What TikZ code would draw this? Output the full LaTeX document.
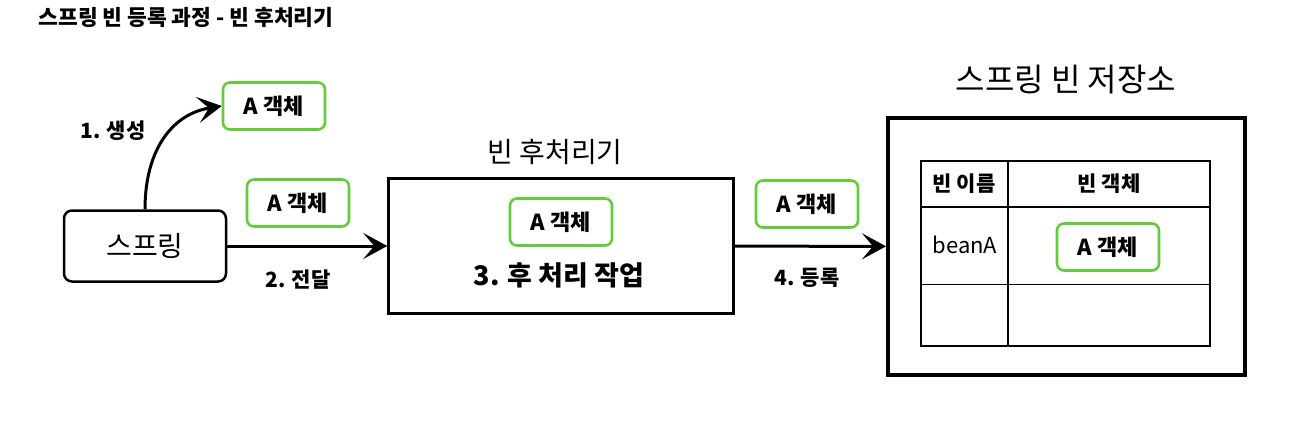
\documentclass[tikz,border=0pt]{standalone}
\usepackage{fontspec}
\setmainfont{Noto Sans CJK KR}
\usetikzlibrary{arrows.meta}
\definecolor{objgreen}{RGB}{98,204,58}
\tikzset{
  objbox/.style={draw=objgreen, line width=2.6pt, rounded corners=7pt,
    minimum width=102pt, minimum height=47pt, font=\fontsize{22}{26}\selectfont\bfseries},
  flow/.style={line width=3pt, -{Stealth[length=24pt,width=26pt,inset=11pt]}},
  lbl/.style={font=\fontsize{21}{25}\selectfont\bfseries},
  cell/.style={font=\fontsize{22}{26}\selectfont},
}

\begin{document}
\begin{tikzpicture}[x=1pt,y=-1pt]
\useasboundingbox (0,0) rectangle (1298,423);
%title
\node[anchor=west, font=\fontsize{21.5}{25}\selectfont\bfseries] (title) at (35,17) {스프링 빈 등록 과정 - 빈 후처리기};
%spring
\node[draw, line width=2.5pt, rounded corners=8pt, minimum width=162pt, minimum height=71pt,
  font=\fontsize{28}{32}\selectfont] (spring) at (145,246) {스프링};
\node[objbox] (objA) at (274,106) {A 객체};
\node[objbox] (objB) at (298,203) {A 객체};
%post processor
\node[draw, line width=2.5pt, minimum width=345pt, minimum height=135pt] (proc) at (561,246) {};
\node[font=\fontsize{28}{32}\selectfont] (proctitle) at (555,152) {빈 후처리기};
\node[objbox] (objC) at (561,222) {A 객체};
\node[font=\fontsize{27}{31}\selectfont\bfseries] (work) at (559,275) {3. 후 처리 작업};
\node[objbox] (objD) at (807,204) {A 객체};
%store
\node[draw, line width=4pt, minimum width=357pt, minimum height=257pt] (store) at (1066.5,246.5) {};
\node[font=\fontsize{32}{36}\selectfont] (storetitle) at (1066,80) {스프링 빈 저장소};
\draw[line width=1.3pt] (921,161) rectangle (1210,346);
\draw[line width=1.3pt] (921,207) -- (1210,207);
\draw[line width=1pt] (921,284) -- (1210,284);
\draw[line width=1.3pt] (1008,161) -- (1008,346);
\node[cell, font=\fontsize{21}{25}\selectfont\bfseries] (hname) at (964,184) {빈 이름};
\node[cell, font=\fontsize{21}{25}\selectfont\bfseries] (hobj) at (1109,184) {빈 객체};
\node[cell] (beanA) at (965,245) {beanA};
\node[objbox] (objE) at (1108,247) {A 객체};
%arrows
\draw[flow] (spring.north) .. controls (145,150) and (172,114) .. (objA.west);
\draw[flow] (spring) -- (proc);
\draw[flow] (proc) -- (store);
\node[lbl] (create) at (113,131) {1. 생성};
\node[lbl] (pass) at (298,280) {2. 전달};
\node[lbl] (reg) at (807,278) {4. 등록};
\end{tikzpicture}
\end{document}
